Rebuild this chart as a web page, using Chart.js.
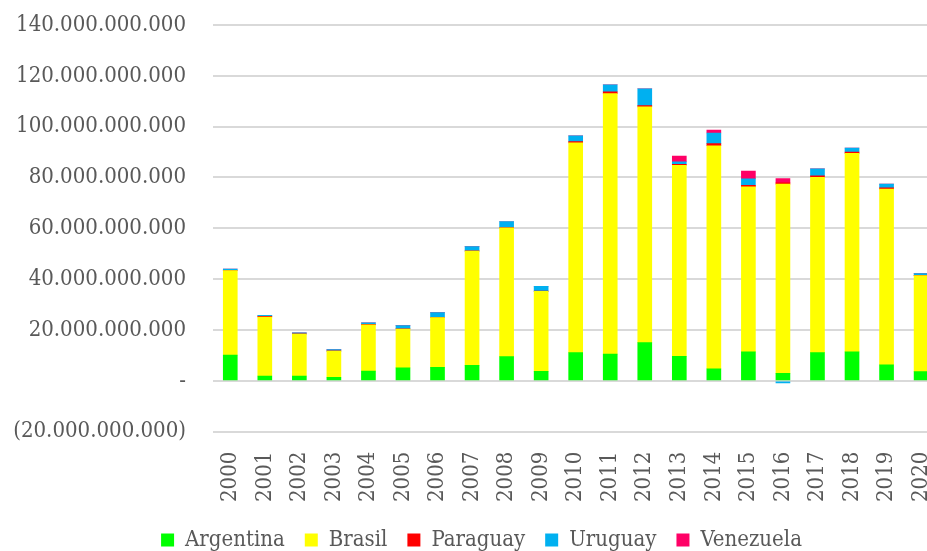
<!DOCTYPE html>
<html>
<head>
<meta charset="utf-8">
<script src="https://cdn.jsdelivr.net/npm/chart.js@4/dist/chart.umd.min.js"></script>
<style>
  html, body { margin: 0; padding: 0; background: #fff; overflow: hidden; }
  #wrap { width: 960px; height: 551px; }
</style>
</head>
<body>
<div id="wrap"><canvas id="chart"></canvas></div>
<script>
// years on the x axis
var years = ['2000','2001','2002','2003','2004','2005','2006','2007','2008','2009','2010',
             '2011','2012','2013','2014','2015','2016','2017','2018','2019','2020'];

// values in billions
var argentina = [10.1, 1.9, 1.9, 1.4, 3.8, 5.1, 5.3, 6.1, 9.5, 3.7, 11.1, 10.5, 15.0, 9.6, 4.7, 11.4, 2.9, 11.1, 11.4, 6.3, 3.6];
var brasil    = [33.3, 23.2, 16.5, 10.3, 18.2, 15.3, 19.6, 44.9, 50.7, 31.5, 82.5, 102.5, 92.8, 75.2, 87.8, 64.9, 74.5, 69.0, 78.1, 69.1, 37.8];
var paraguay  = [0.1, 0.3, 0.1, 0.1, 0.2, 0.1, 0.1, 0.1, 0.1, 0.1, 0.5, 0.7, 0.5, 0.4, 0.8, 0.6, 0.5, 0.6, 0.5, 0.5, 0.1];
var uruguay   = [0.5, 0.4, 0.4, 0.5, 0.6, 1.2, 1.8, 1.7, 2.4, 1.9, 2.3, 2.8, 6.6, 1.0, 4.2, 2.6, -0.8, 2.7, 1.6, 1.5, 0.7];
var venezuela = [0, 0, 0, 0, 0, 0, 0, 0, 0, 0, 0, 0, 0, 2.2, 1.2, 3.0, 1.7, 0, 0, 0, 0];

var yTicks = [-20, 0, 20, 40, 60, 80, 100, 120, 140]; // billions

var B = 1e9;
function toUnits(arr) { return arr.map(function (v) { return v * B; }); }

// format like 140.000.000.000, zero as "-", negatives in brackets
function fmt(v) {
    if (Math.abs(v) < 1) return '-';
    var s = Math.round(Math.abs(v)).toString().replace(/\B(?=(\d{3})+(?!\d))/g, '.');
    return v < 0 ? '(' + s + ')' : s;
}

var series = [
    { label: 'Argentina', data: argentina, color: '#00FF00' },
    { label: 'Brasil',    data: brasil,    color: '#FFFF00' },
    { label: 'Paraguay',  data: paraguay,  color: '#FF0000' },
    { label: 'Uruguay',   data: uruguay,   color: '#00B0F0' },
    { label: 'Venezuela', data: venezuela, color: '#FF0066' }
];

var textColor = '#595959';
var font = { family: "'DejaVu Serif Condensed', 'DejaVu Serif', serif", size: 22 };

// nudge the legend a bit, like the original sheet
var legendNudge = {
    id: 'legendNudge',
    afterLayout: function (chart) {
        var lg = chart.legend;
        if (!lg) return;
        lg.left += 12; lg.right += 12;
        lg.top -= 5; lg.bottom -= 5;
    }
};

new Chart(document.getElementById('chart'), {
    type: 'bar',
    data: {
        labels: years,
        datasets: series.map(function (s) {
            return {
                label: s.label,
                data: toUnits(s.data),
                backgroundColor: s.color,
                borderWidth: 0,
                barThickness: 14
            };
        })
    },
    plugins: [legendNudge],
    options: {
        responsive: true,
        maintainAspectRatio: false,
        animation: false,
        layout: { padding: { left: 0, right: 21, top: 25, bottom: -15 } },
        plugins: {
            tooltip: { enabled: false },
            legend: {
                position: 'bottom',
                labels: {
                    color: textColor,
                    font: font,
                    boxWidth: 13,
                    boxHeight: 13,
                    padding: 20
                }
            }
        },
        scales: {
            x: {
                stacked: true,
                grid: { display: false },
                border: { display: false },
                ticks: {
                    color: textColor,
                    font: font,
                    minRotation: 90,
                    maxRotation: 90,
                    autoSkip: false,
                    padding: 12
                }
            },
            y: {
                stacked: true,
                min: yTicks[0] * B,
                max: yTicks[yTicks.length - 1] * B,
                afterBuildTicks: function (axis) {
                    axis.ticks = yTicks.map(function (v) { return { value: v * B }; });
                },
                afterFit: function (axis) {
                    axis.width = 213;
                    axis.paddingTop = 0;
                    axis.paddingBottom = 0;
                },
                grid: { color: '#d9d9d9', lineWidth: 2, drawTicks: false },
                border: { display: false },
                ticks: {
                    color: textColor,
                    font: font,
                    padding: 27,
                    callback: function (v) { return fmt(v); }
                }
            }
        }
    }
});
</script>
</body>
</html>
